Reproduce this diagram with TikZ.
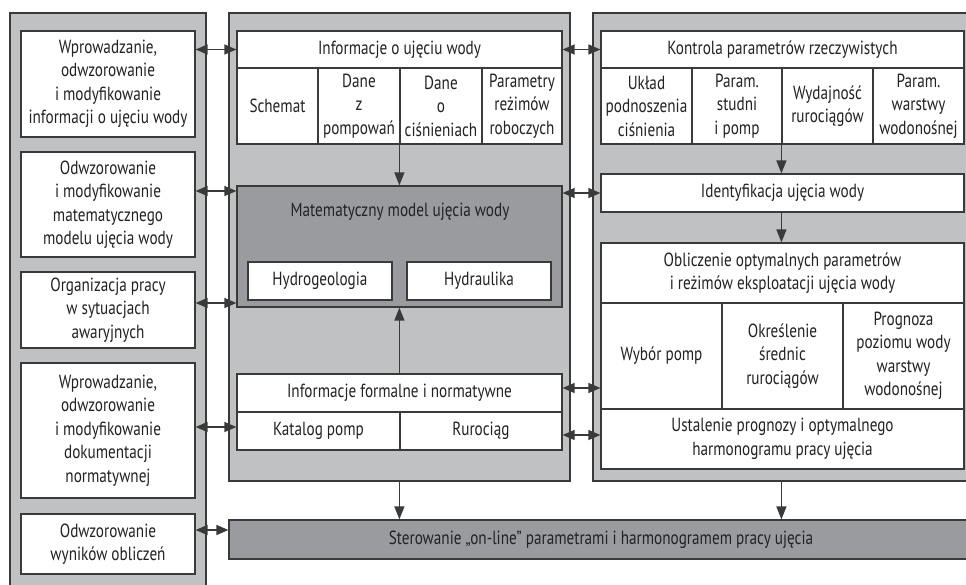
\documentclass[tikz,border=0pt]{standalone}
\usepackage{fontspec}
\setmainfont{PT Sans}[FakeStretch=0.8]
\usetikzlibrary{arrows.meta}
\definecolor{panel}{HTML}{C0C1C3}
\definecolor{darkfill}{HTML}{9A9B9E}
\definecolor{ink}{HTML}{3A3A3A}
\definecolor{txt}{HTML}{222222}
\newcommand\placebox[6]{\node[#2, minimum width={#5pt-#3pt}, minimum height={#6pt-#4pt}] (#1) at ({(#3+#5)/2},{(#4+#6)/2})}
\begin{document}
\begin{tikzpicture}[x=1pt,y=-1pt,
  every node/.style={font=\fontsize{19}{23.5}\selectfont, text=txt},
  panelbox/.style={draw=ink, line width=1.2pt, fill=panel, inner sep=0pt},
  box/.style={draw=ink, line width=1.2pt, fill=white, inner sep=0pt, align=center},
  darkbox/.style={box, fill=darkfill},
  plain/.style={inner sep=0pt, align=center},
  dbl/.style={{Triangle[length=12pt,width=10pt]}-{Triangle[length=12pt,width=10pt]}, draw=ink, line width=1.3pt},
  arr/.style={-{Triangle[length=13pt,width=10pt]}, draw=ink, line width=1.3pt}]
\useasboundingbox (0,0) rectangle (966,584);
\clip (0,0) rectangle (966,584);

% panels
\placebox{Lp}{panelbox}{10}{13}{206}{600}{};
\placebox{Mp}{panelbox}{229}{13}{570}{481}{};
\placebox{Rp}{panelbox}{593}{13}{980}{481}{};

% left column
\placebox{L1}{box}{21}{31}{195}{137}{Wprowadzanie,\\odwzorowanie\\i modyfikowanie\\informacji o ujęciu wody};
\placebox{L2}{box}{21}{152}{195}{257}{Odwzorowanie\\i modyfikowanie\\matematycznego\\modelu ujęcia wody};
\placebox{L3}{box}{21}{272}{195}{348}{Organizacja pracy\\w sytuacjach\\awaryjnych};
\placebox{L4}{box}{21}{363}{195}{498}{Wprowadzanie,\\odwzorowanie\\i modyfikowanie\\dokumentacji\\normatywnej};
\placebox{L5}{box}{21}{514}{195}{574}{Odwzorowanie\\wyników obliczeń};

% middle column
\placebox{IH}{box}{237}{31}{562}{68}{Informacje o ujęciu wody};
\placebox{I1}{box}{237}{68}{318}{144}{Schemat};
\placebox{I2}{box}{318}{68}{400}{144}{Dane\\z\\pompowań};
\placebox{I3}{box}{400}{68}{482}{144}{Dane\\o\\ciśnieniach};
\placebox{I4}{box}{482}{68}{562}{144}{Parametry\\reżimów\\roboczych};

\placebox{MM}{darkbox}{237}{186}{562}{307}{};
\node[plain] (MMt) at (400,212) {Matematyczny model ujęcia wody};
\placebox{Hg}{box}{248}{262}{392}{300}{Hydrogeologia};
\placebox{Hd}{box}{407}{262}{551}{300}{Hydraulika};

\placebox{FH}{box}{237}{374}{562}{412}{Informacje formalne i normatywne};
\placebox{F1}{box}{237}{412}{400}{450}{Katalog pomp};
\placebox{F2}{box}{400}{412}{562}{450}{Rurociąg};

\placebox{St}{darkbox}{229}{520}{973}{559}{Sterowanie „on-line” parametrami i harmonogramem pracy ujęcia};

% right column
\placebox{KH}{box}{601}{31}{964}{68}{Kontrola parametrów rzeczywistych};
\placebox{K1}{box}{601}{68}{692}{144}{Układ\\podnoszenia\\ciśnienia};
\placebox{K2}{box}{692}{68}{782}{144}{Param.\\studni\\i pomp};
\placebox{K3}{box}{782}{68}{873}{144}{Wydajność\\rurociągów};
\placebox{K4}{box}{873}{68}{964}{144}{Param.\\warstwy\\wodonośnej};

\placebox{Id}{box}{601}{174}{964}{212}{Identyfikacja ujęcia wody};

\placebox{OH}{box}{601}{243}{964}{303}{Obliczenie optymalnych parametrów\\i reżimów eksploatacji ujęcia wody};
\placebox{O1}{box}{601}{303}{722}{409}{Wybór pomp};
\placebox{O2}{box}{722}{303}{843}{409}{Określenie\\średnic\\rurociągów};
\placebox{O3}{box}{843}{303}{964}{409}{Prognoza\\poziomu wody\\warstwy\\wodonośnej};
\placebox{U}{box}{601}{409}{964}{469}{Ustalenie prognozy i optymalnego\\harmonogramu pracy ujęcia};

% arrow levels
\coordinate (y191) at (0,191);
\coordinate (y303) at (0,303);
\coordinate (y427) at (0,427);
\coordinate (y530) at (0,530);
\coordinate (y388) at (0,388);
\coordinate (y435) at (0,435);

% horizontal double arrows
\draw[dbl] (L1.east |- IH.west) -- (IH.west);
\draw[dbl] (L2.east |- y191) -- (MM.west |- y191);
\draw[dbl] (L3.east |- y303) -- (MM.west |- y303);
\draw[dbl] (L4.east |- y427) -- (F1.west |- y427);
\draw[dbl] (L5.east |- y530) -- (St.west |- y530);
\draw[dbl] (IH.east) -- (KH.west);
\draw[dbl] (MM.east |- Id.west) -- (Id.west);
\draw[dbl] (FH.east |- y388) -- (O1.west |- y388);
\draw[dbl] (F2.east |- y435) -- (U.west |- y435);

% vertical arrows
\draw[arr] (I3.south west) -- (I3.south west |- MM.north);
\draw[arr] (FH.north -| I3.south west) -- (I3.south west |- MM.south);
\draw[arr] (Mp.south -| I3.south west) -- (I3.south west |- St.north);
\draw[arr] (K3.south west) -- (K3.south west |- Id.north);
\draw[arr] (K3.south west |- Id.south) -- (K3.south west |- OH.north);
\draw[arr] (K3.south west |- Rp.south) -- (K3.south west |- St.north);
\end{tikzpicture}
\end{document}
